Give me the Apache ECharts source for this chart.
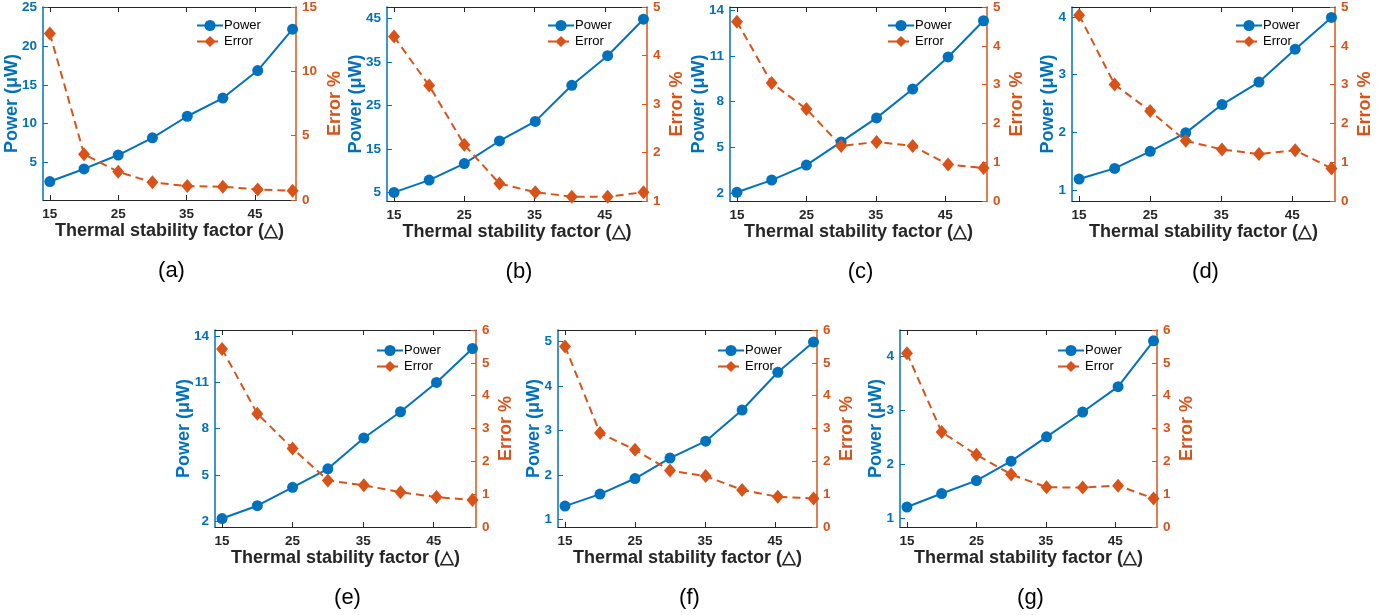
<!DOCTYPE html>
<html>
<head>
    <meta charset="utf-8">
    <title>Power / Error vs thermal stability factor</title>
    <script type="text/javascript" src="https://cdn.jsdelivr.net/npm/echarts@6/dist/echarts.min.js"></script>
    <style>
        html, body { margin: 0; padding: 0; background: #fff; }
        #main { width: 1390px; height: 615px; }
    </style>
</head>
<body>
    <div id="main"></div>
    <script type="text/javascript">
        // x values (thermal stability factor) and tick labels
        var xVals = [15, 20, 25, 30, 35.1, 40.3, 45.4, 50.5];
        var xTicks = [15, 25, 35, 45];

        // power (uW) and error (%) per panel
        var powerA = [2.57, 4.19, 5.98, 8.19, 10.96, 13.3, 16.83, 22.15];
        var errorA = [12.94, 3.56, 2.19, 1.37, 1.08, 1.03, 0.82, 0.72];
        var powerB = [5.08, 7.9, 11.7, 16.9, 21.4, 29.7, 36.5, 44.9];
        var errorB = [4.39, 3.38, 2.16, 1.36, 1.18, 1.09, 1.09, 1.18];
        var powerC = [2.07, 2.87, 3.85, 5.37, 6.94, 8.83, 10.93, 13.3];
        var errorC = [4.62, 3.04, 2.37, 1.42, 1.52, 1.42, 0.94, 0.85];
        var powerD = [1.19, 1.375, 1.67, 1.99, 2.48, 2.87, 3.44, 3.99];
        var errorD = [4.79, 3.0, 2.32, 1.55, 1.33, 1.21, 1.31, 0.84];
        var powerE = [2.18, 3.01, 4.2, 5.4, 7.4, 9.1, 11.0, 13.2];
        var errorE = [5.42, 3.45, 2.39, 1.42, 1.27, 1.06, 0.91, 0.82];
        var powerF = [1.30, 1.57, 1.92, 2.38, 2.76, 3.46, 4.31, 4.99];
        var errorF = [5.5, 2.86, 2.35, 1.72, 1.55, 1.13, 0.92, 0.87];
        var powerG = [1.2, 1.45, 1.69, 2.05, 2.5, 2.96, 3.43, 4.28];
        var errorG = [5.29, 2.89, 2.2, 1.6, 1.21, 1.2, 1.26, 0.87];

        // axis ticks per panel
        var powerTicksA = [5, 10, 15, 20, 25];
        var powerTicksB = [5, 15, 25, 35, 45];
        var powerTicksC = [2, 5, 8, 11, 14];
        var powerTicksD = [1, 2, 3, 4];
        var powerTicksE = [2, 5, 8, 11, 14];
        var powerTicksF = [1, 2, 3, 4, 5];
        var powerTicksG = [1, 2, 3, 4];
        var errorTicksA = [0, 5, 10, 15];
        var errorTicksB = [1, 2, 3, 4, 5];
        var errorTicks5 = [0, 1, 2, 3, 4, 5];
        var errorTicks6 = [0, 1, 2, 3, 4, 5, 6];

        var captions = ['(a)', '(b)', '(c)', '(d)', '(e)', '(f)', '(g)'];

        var blue = '#0072BD';
        var orange = '#D95319';
        var gray = '#262626';
        var font = '"Liberation Sans", Arial, sans-serif';

        // panel layout: [left, top, right, bottom] in pixels, plus axis ranges
        var panels = [
            { box: [43, 5, 296, 200], power: powerA, error: errorA, pMin: 0.2, pMax: 25, pTicks: powerTicksA, eMin: 0, eMax: 15, eTicks: errorTicksA },
            { box: [387, 5, 647, 201], power: powerB, error: errorB, pMin: 3.1, pMax: 47.7, pTicks: powerTicksB, eMin: 1, eMax: 5, eTicks: errorTicksB },
            { box: [730, 5, 987, 201], power: powerC, error: errorC, pMin: 1.5, pMax: 14.2, pTicks: powerTicksC, eMin: 0, eMax: 5, eTicks: errorTicks5 },
            { box: [1072, 5, 1335, 201], power: powerD, error: errorD, pMin: 0.81, pMax: 4.17, pTicks: powerTicksD, eMin: 0, eMax: 5, eTicks: errorTicks5 },
            { box: [215, 330, 476, 527], power: powerE, error: errorE, pMin: 1.63, pMax: 14.4, pTicks: powerTicksE, eMin: 0, eMax: 6, eTicks: errorTicks6 },
            { box: [558, 330, 817, 527], power: powerF, error: errorF, pMin: 0.83, pMax: 5.26, pTicks: powerTicksF, eMin: 0, eMax: 6, eTicks: errorTicks6 },
            { box: [900, 330, 1157, 527], power: powerG, error: errorG, pMin: 0.83, pMax: 4.48, pTicks: powerTicksG, eMin: 0, eMax: 6, eTicks: errorTicks6 }
        ];

        function pairs(ys) {
            var out = [];
            for (var i = 0; i < ys.length; i++) out.push([xVals[i], ys[i]]);
            return out;
        }

        // widest tick label, so the axis name sits just past the labels
        function digits(ticks) {
            var n = 1;
            for (var i = 0; i < ticks.length; i++) n = Math.max(n, String(ticks[i]).length);
            return n;
        }

        var grids = [], xAxes = [], yAxes = [], series = [], legends = [], titles = [];

        for (var i = 0; i < panels.length; i++) {
            var p = panels[i];
            var b = p.box;
            grids.push({ left: b[0], top: b[1], width: b[2] - b[0], height: b[3] - b[1] });

            // bottom x axis
            xAxes.push({
                gridIndex: i, type: 'value', min: 14, max: 51, position: 'bottom',
                name: 'Thermal stability factor (\u25B3)', nameLocation: 'middle', nameGap: 21,
                nameTextStyle: { color: gray, fontSize: 18, fontWeight: 'bold', fontFamily: font },
                axisLine: { lineStyle: { color: gray, width: 1 } },
                axisTick: { inside: true, length: 5, customValues: xTicks, lineStyle: { color: gray } },
                axisLabel: { customValues: xTicks, margin: 7, color: gray, fontSize: 13.5, fontWeight: 'bold', fontFamily: font },
                splitLine: { show: false }
            });
            // top border axis
            xAxes.push({
                gridIndex: i, type: 'value', min: 14, max: 51, position: 'top',
                axisLine: { lineStyle: { color: gray, width: 1 } },
                axisTick: { inside: true, length: 5, customValues: xTicks, lineStyle: { color: gray } },
                axisLabel: { show: false },
                splitLine: { show: false }
            });

            yAxes.push({
                gridIndex: i, type: 'value', position: 'left', min: p.pMin, max: p.pMax,
                name: 'Power (\u03BCW)', nameLocation: 'middle', nameRotate: 90,
                nameMoveOverlap: false,
                nameGap: digits(p.pTicks) > 1 ? 22 : 15,
                nameTextStyle: { color: blue, fontSize: 18, fontWeight: 'bold', fontFamily: font },
                axisLine: { show: true, lineStyle: { color: blue, width: 1.5 } },
                axisTick: { show: true, inside: true, length: 5, customValues: p.pTicks, lineStyle: { color: blue } },
                axisLabel: { customValues: p.pTicks, margin: 6, color: blue, fontSize: 13.5, fontWeight: 'bold', fontFamily: font },
                splitLine: { show: false }
            });
            yAxes.push({
                gridIndex: i, type: 'value', position: 'right', min: p.eMin, max: p.eMax,
                name: 'Error %', nameLocation: 'middle', nameRotate: 90,
                nameMoveOverlap: false,
                nameGap: digits(p.eTicks) > 1 ? 30 : 21,
                nameTextStyle: { color: orange, fontSize: 18, fontWeight: 'bold', fontFamily: font },
                axisLine: { show: true, lineStyle: { color: orange, width: 1.5 } },
                axisTick: { show: true, inside: true, length: 5, customValues: p.eTicks, lineStyle: { color: orange } },
                axisLabel: { customValues: p.eTicks, margin: 6, color: orange, fontSize: 13.5, fontWeight: 'bold', fontFamily: font },
                splitLine: { show: false }
            });

            series.push({
                name: 'Power', type: 'line', xAxisIndex: 2 * i, yAxisIndex: 2 * i,
                data: pairs(p.power), symbol: 'circle', symbolSize: 11,
                itemStyle: { color: blue }, lineStyle: { color: blue, width: 2 }
            });
            series.push({
                name: 'Error', type: 'line', xAxisIndex: 2 * i, yAxisIndex: 2 * i + 1,
                data: pairs(p.error), symbol: 'diamond', symbolSize: [12, 14],
                itemStyle: { color: orange }, lineStyle: { color: orange, width: 2, type: [8, 5] }
            });

            legends.push({
                orient: 'vertical', left: b[2] - 100, top: b[1] + 14, padding: 0,
                itemWidth: 26, itemHeight: 14, itemGap: 3,
                data: ['Power', 'Error'],
                textStyle: { color: '#000', fontSize: 13, fontFamily: font, padding: [0, 0, 0, -4] }
            });

            titles.push({
                text: captions[i], left: (b[0] + b[2]) / 2 - 3, top: b[3] + 55, textAlign: 'center',
                textStyle: { color: '#000', fontSize: 22, fontWeight: 'normal', fontFamily: font }
            });
        }

        var myChart = echarts.init(document.getElementById('main'));
        myChart.setOption({
            animation: false,
            title: titles,
            legend: legends,
            grid: grids,
            xAxis: xAxes,
            yAxis: yAxes,
            series: series
        });
    </script>
</body>
</html>
